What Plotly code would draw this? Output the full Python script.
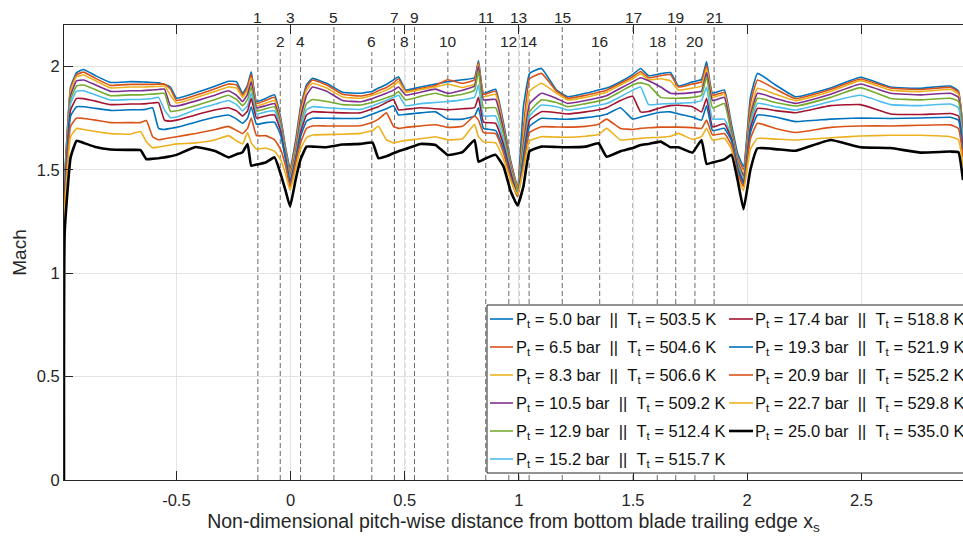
import plotly.graph_objects as go

# ---------------- data ----------------
x_s = [-0.992, -0.989, -0.963, -0.937, -0.906, -0.854, -0.788, -0.701, -0.657, -0.631,
       -0.604, -0.578, -0.552, -0.526, -0.499, -0.416, -0.328, -0.272, -0.236, -0.210,
       -0.188, -0.172, -0.149, -0.109, -0.070, -0.044, -0.022, -0.002, 0.022, 0.044,
       0.070, 0.096, 0.158, 0.228, 0.307, 0.359, 0.385, 0.420, 0.451, 0.473,
       0.504, 0.569, 0.635, 0.688, 0.753, 0.806, 0.823, 0.845, 0.898, 0.933,
       0.963, 0.994, 1.020, 1.047, 1.099, 1.165, 1.213, 1.292, 1.349, 1.384,
       1.445, 1.498, 1.533, 1.568, 1.621, 1.664, 1.699, 1.760, 1.800, 1.822,
       1.848, 1.900, 1.931, 1.958, 1.984, 2.014, 2.045, 2.124, 2.212, 2.365,
       2.496, 2.628, 2.759, 2.890, 2.925, 2.945]

mach_05_0 = [0.23, 1.45, 1.90, 1.97, 1.985, 1.955, 1.922, 1.926, 1.925, 1.924,
             1.922, 1.92, 1.912, 1.90, 1.846, 1.872, 1.905, 1.928, 1.925, 1.87,
             1.91, 1.974, 1.83, 1.845, 1.862, 1.757, 1.61, 1.507, 1.64, 1.805,
             1.91, 1.942, 1.918, 1.875, 1.870, 1.88, 1.895, 1.912, 1.935, 1.950,
             1.886, 1.90, 1.915, 1.926, 1.935, 1.945, 2.028, 1.87, 1.889, 1.725,
             1.55, 1.42, 1.805, 1.966, 1.99, 1.885, 1.853, 1.87, 1.886, 1.895,
             1.926, 1.96, 1.99, 1.955, 1.965, 1.970, 1.905, 1.925, 1.937, 2.023,
             1.87, 1.886, 1.72, 1.58, 1.515, 1.85, 1.966, 1.91, 1.853, 1.895,
             1.947, 1.90, 1.894, 1.905, 1.88, 1.70]

mach_06_5 = [0.21, 1.44, 1.89, 1.96, 1.972, 1.942, 1.908, 1.913, 1.913, 1.913,
             1.913, 1.914, 1.915, 1.89, 1.835, 1.86, 1.893, 1.915, 1.91, 1.86,
             1.90, 1.96, 1.82, 1.835, 1.85, 1.745, 1.60, 1.49, 1.62, 1.79,
             1.90, 1.934, 1.91, 1.865, 1.857, 1.868, 1.882, 1.898, 1.92, 1.94,
             1.88, 1.893, 1.908, 1.935, 1.918, 1.935, 2.02, 1.865, 1.88, 1.71,
             1.54, 1.415, 1.70, 1.94, 1.966, 1.88, 1.846, 1.86, 1.875, 1.885,
             1.918, 1.95, 1.975, 1.945, 1.955, 1.96, 1.90, 1.915, 1.925, 2.005,
             1.86, 1.875, 1.70, 1.56, 1.50, 1.82, 1.934, 1.89, 1.844, 1.888,
             1.939, 1.895, 1.888, 1.898, 1.875, 1.69]

mach_08_3 = [0.19, 1.43, 1.88, 1.95, 1.958, 1.93, 1.896, 1.90, 1.90, 1.901,
             1.902, 1.903, 1.905, 1.86, 1.823, 1.848, 1.88, 1.90, 1.895, 1.85,
             1.885, 1.945, 1.81, 1.822, 1.835, 1.735, 1.59, 1.48, 1.60, 1.77,
             1.885, 1.918, 1.895, 1.852, 1.846, 1.86, 1.87, 1.885, 1.905, 1.926,
             1.875, 1.888, 1.90, 1.915, 1.898, 1.915, 2.01, 1.853, 1.865, 1.70,
             1.53, 1.41, 1.66, 1.88, 1.918, 1.87, 1.838, 1.85, 1.865, 1.875,
             1.91, 1.94, 1.965, 1.935, 1.94, 1.93, 1.885, 1.895, 1.905, 1.99,
             1.85, 1.865, 1.69, 1.55, 1.48, 1.78, 1.894, 1.865, 1.834, 1.878,
             1.931, 1.885, 1.878, 1.888, 1.865, 1.68]

mach_10_5 = [0.17, 1.42, 1.86, 1.93, 1.934, 1.91, 1.879, 1.882, 1.882, 1.884,
             1.886, 1.888, 1.89, 1.81, 1.808, 1.832, 1.862, 1.882, 1.86, 1.83,
             1.865, 1.925, 1.80, 1.81, 1.82, 1.725, 1.58, 1.47, 1.58, 1.75,
             1.86, 1.90, 1.88, 1.835, 1.829, 1.845, 1.855, 1.87, 1.885, 1.90,
             1.862, 1.875, 1.89, 1.87, 1.885, 1.905, 2.00, 1.838, 1.84, 1.69,
             1.52, 1.40, 1.62, 1.82, 1.87, 1.845, 1.821, 1.835, 1.848, 1.858,
             1.894, 1.925, 1.945, 1.93, 1.90, 1.87, 1.868, 1.873, 1.88, 1.97,
             1.835, 1.85, 1.68, 1.54, 1.47, 1.76, 1.87, 1.845, 1.821, 1.865,
             1.915, 1.87, 1.862, 1.87, 1.85, 1.67]

mach_12_9 = [0.15, 1.41, 1.84, 1.905, 1.91, 1.887, 1.858, 1.862, 1.862, 1.864,
             1.866, 1.868, 1.87, 1.783, 1.785, 1.81, 1.84, 1.86, 1.84, 1.81,
             1.84, 1.90, 1.785, 1.795, 1.805, 1.715, 1.575, 1.46, 1.57, 1.72,
             1.82, 1.84, 1.83, 1.815, 1.813, 1.826, 1.835, 1.848, 1.86, 1.878,
             1.838, 1.855, 1.87, 1.855, 1.865, 1.885, 1.98, 1.80, 1.80, 1.67,
             1.51, 1.40, 1.60, 1.78, 1.838, 1.825, 1.805, 1.82, 1.832, 1.842,
             1.878, 1.91, 1.92, 1.91, 1.85, 1.846, 1.846, 1.85, 1.86, 1.95,
             1.80, 1.82, 1.67, 1.53, 1.46, 1.74, 1.846, 1.825, 1.808, 1.85,
             1.897, 1.845, 1.838, 1.846, 1.83, 1.65]

mach_15_2 = [0.13, 1.40, 1.82, 1.88, 1.882, 1.862, 1.837, 1.84, 1.84, 1.842,
             1.845, 1.85, 1.79, 1.752, 1.755, 1.79, 1.818, 1.835, 1.815, 1.785,
             1.81, 1.87, 1.77, 1.78, 1.785, 1.705, 1.57, 1.455, 1.56, 1.70,
             1.79, 1.805, 1.80, 1.795, 1.792, 1.81, 1.82, 1.835, 1.85, 1.86,
             1.81, 1.82, 1.825, 1.83, 1.838, 1.85, 1.91, 1.76, 1.76, 1.64,
             1.50, 1.39, 1.58, 1.76, 1.813, 1.805, 1.789, 1.80, 1.812, 1.82,
             1.853, 1.885, 1.90, 1.815, 1.818, 1.82, 1.821, 1.825, 1.835, 1.90,
             1.745, 1.745, 1.66, 1.52, 1.45, 1.72, 1.821, 1.805, 1.789, 1.83,
             1.86, 1.815, 1.81, 1.818, 1.80, 1.63]

mach_17_4 = [0.11, 1.38, 1.79, 1.845, 1.844, 1.832, 1.815, 1.818, 1.818, 1.82,
             1.823, 1.825, 1.74, 1.735, 1.74, 1.765, 1.79, 1.80, 1.785, 1.76,
             1.785, 1.845, 1.75, 1.76, 1.765, 1.69, 1.56, 1.44, 1.55, 1.68,
             1.765, 1.781, 1.778, 1.775, 1.776, 1.795, 1.805, 1.825, 1.84, 1.79,
             1.792, 1.80, 1.795, 1.79, 1.795, 1.80, 1.85, 1.73, 1.725, 1.62,
             1.49, 1.38, 1.56, 1.74, 1.781, 1.776, 1.77, 1.78, 1.79, 1.80,
             1.835, 1.855, 1.78, 1.782, 1.80, 1.81, 1.812, 1.805, 1.78, 1.846,
             1.708, 1.722, 1.65, 1.51, 1.44, 1.70, 1.797, 1.786, 1.776, 1.81,
             1.815, 1.77, 1.767, 1.772, 1.76, 1.60]

mach_19_3 = [0.09, 1.36, 1.76, 1.805, 1.805, 1.797, 1.787, 1.79, 1.79, 1.793,
             1.80, 1.70, 1.695, 1.70, 1.705, 1.73, 1.755, 1.765, 1.745, 1.725,
             1.75, 1.805, 1.72, 1.728, 1.73, 1.67, 1.55, 1.43, 1.54, 1.66,
             1.735, 1.749, 1.749, 1.748, 1.749, 1.77, 1.78, 1.795, 1.81, 1.765,
             1.768, 1.775, 1.78, 1.745, 1.745, 1.76, 1.80, 1.70, 1.69, 1.60,
             1.47, 1.37, 1.55, 1.71, 1.749, 1.746, 1.744, 1.752, 1.76, 1.768,
             1.80, 1.745, 1.755, 1.765, 1.778, 1.78, 1.77, 1.755, 1.74, 1.81,
             1.69, 1.70, 1.64, 1.50, 1.43, 1.68, 1.765, 1.755, 1.733, 1.745,
             1.75, 1.748, 1.75, 1.754, 1.74, 1.58]

mach_20_9 = [0.07, 1.33, 1.71, 1.75, 1.748, 1.74, 1.728, 1.728, 1.728, 1.738,
             1.66, 1.645, 1.65, 1.655, 1.66, 1.675, 1.695, 1.71, 1.69, 1.675,
             1.70, 1.75, 1.665, 1.665, 1.645, 1.60, 1.52, 1.415, 1.53, 1.63,
             1.70, 1.712, 1.712, 1.712, 1.713, 1.73, 1.745, 1.775, 1.71, 1.70,
             1.705, 1.712, 1.718, 1.705, 1.71, 1.76, 1.74, 1.68, 1.675, 1.58,
             1.46, 1.37, 1.52, 1.68, 1.708, 1.707, 1.706, 1.71, 1.72, 1.745,
             1.70, 1.695, 1.70, 1.703, 1.706, 1.706, 1.706, 1.704, 1.70, 1.74,
             1.668, 1.675, 1.62, 1.48, 1.42, 1.65, 1.725, 1.70, 1.68, 1.705,
             1.712, 1.712, 1.715, 1.717, 1.70, 1.56]

mach_22_7 = [0.05, 1.30, 1.66, 1.70, 1.695, 1.685, 1.675, 1.672, 1.685, 1.635,
             1.606, 1.61, 1.615, 1.62, 1.625, 1.63, 1.645, 1.665, 1.64, 1.625,
             1.68, 1.63, 1.60, 1.605, 1.59, 1.55, 1.48, 1.40, 1.50, 1.60,
             1.655, 1.668, 1.67, 1.672, 1.676, 1.69, 1.71, 1.645, 1.63, 1.635,
             1.642, 1.65, 1.66, 1.645, 1.65, 1.72, 1.66, 1.635, 1.63, 1.55,
             1.45, 1.38, 1.50, 1.64, 1.66, 1.658, 1.657, 1.662, 1.67, 1.70,
             1.644, 1.648, 1.652, 1.655, 1.657, 1.662, 1.676, 1.647, 1.66, 1.70,
             1.644, 1.652, 1.60, 1.46, 1.40, 1.60, 1.652, 1.648, 1.644, 1.655,
             1.663, 1.667, 1.667, 1.66, 1.645, 1.52]

mach_25_0 = [0.0, 1.20, 1.56, 1.64, 1.63, 1.61, 1.598, 1.596, 1.595, 1.551,
             1.553, 1.556, 1.56, 1.565, 1.572, 1.61, 1.59, 1.56, 1.575, 1.585,
             1.625, 1.52, 1.525, 1.535, 1.56, 1.483, 1.40, 1.322, 1.45, 1.55,
             1.612, 1.612, 1.609, 1.622, 1.625, 1.631, 1.556, 1.565, 1.58, 1.59,
             1.60, 1.625, 1.62, 1.572, 1.585, 1.644, 1.539, 1.55, 1.572, 1.515,
             1.40, 1.327, 1.42, 1.59, 1.612, 1.61, 1.609, 1.612, 1.628, 1.563,
             1.59, 1.605, 1.62, 1.625, 1.636, 1.609, 1.609, 1.583, 1.644, 1.528,
             1.535, 1.55, 1.572, 1.45, 1.309, 1.50, 1.604, 1.60, 1.592, 1.644,
             1.609, 1.605, 1.583, 1.588, 1.585, 1.45]

pt_bar = ["5.0", "6.5", "8.3", "10.5", "12.9", "15.2", "17.4", "19.3", "20.9", "22.7", "25.0"]
tt_k = ["503.5", "504.6", "506.6", "509.2", "512.4", "515.7", "518.8", "521.9", "525.2", "529.8", "535.0"]

probe_x = [-0.143, -0.045, 0.0, 0.044, 0.190, 0.356, 0.455, 0.500, 0.543, 0.689,
           0.855, 0.956, 1.000, 1.045, 1.190, 1.354, 1.500, 1.606, 1.687, 1.771, 1.855]
probe_labels = ["1", "2", "3", "4", "5", "6", "7", "8", "9", "10", "11",
                "12", "13", "14", "15", "16", "17", "18", "19", "20", "21"]

x_ticks = [-0.5, 0, 0.5, 1, 1.5, 2, 2.5]
x_ticktext = ["-0.5", "0", "0.5", "1", "1.5", "2", "2.5"]
y_ticks = [0, 0.5, 1, 1.5, 2]
y_ticktext = ["0", "0.5", "1", "1.5", "2"]

series = [mach_05_0, mach_06_5, mach_08_3, mach_10_5, mach_12_9, mach_15_2,
          mach_17_4, mach_19_3, mach_20_9, mach_22_7, mach_25_0]

# ---------------- styling ----------------
colors = ["#0072BD", "#D95319", "#EDB120", "#7E2F8E", "#77AC30", "#4DBEEE",
          "#A2142F", "#0072BD", "#D95319", "#EDB120", "#000000"]
FONT = "Liberation Sans, Arial, Helvetica, sans-serif"
NB = "\u00a0"

# figure geometry (pixels) used to place the hand-built two-column legend
W, H = 963, 540
ML, MR, MT, MB = 64, 0, 25, 60
PW, PH = W - ML - MR, H - MT - MB


def px_x(p):
    return (p - ML) / PW


def px_y(p):
    return (H - MB - p) / PH


fig = go.Figure()
names = []
for i, (ys, p, t) in enumerate(zip(series, pt_bar, tt_k)):
    name = f"P<sub>t</sub> = {p} bar{NB}{NB}||{NB}{NB}T<sub>t</sub> = {t} K"
    names.append(name)
    fig.add_trace(go.Scatter(
        x=x_s, y=ys, mode="lines", name=name, showlegend=False,
        line=dict(color=colors[i], width=2.6 if i == 10 else 1.6, shape="spline", smoothing=0.35),
    ))

shapes = []
annotations = []
for k, (px, lab) in enumerate(zip(probe_x, probe_labels)):
    odd = (k % 2 == 0)
    shapes.append(dict(type="line", xref="x", yref="paper", x0=px, x1=px,
                       y0=0, y1=1.0 if odd else px_y(52), layer="below",
                       line=dict(color="#6a6a6a", width=1, dash="5px,3px")))
    annotations.append(dict(x=px, xref="x", yref="paper", y=px_y(17) if odd else px_y(42),
                            text=lab, showarrow=False, xanchor="center", yanchor="middle",
                            font=dict(family=FONT, size=15.5, color="#262626")))

# legend box (two columns, like the reference)
shapes.append(dict(type="rect", xref="paper", yref="paper",
                   x0=px_x(487), x1=px_x(968), y0=px_y(473), y1=px_y(305),
                   fillcolor="white", line=dict(color="#262626", width=1), layer="above"))
for i, name in enumerate(names):
    col, row = (0, i) if i < 6 else (1, i - 6)
    ly = 319 + 28 * row
    lx0, lx1, tx = (490, 513, 514) if col == 0 else (729, 753, 753)
    shapes.append(dict(type="line", xref="paper", yref="paper",
                       x0=px_x(lx0), x1=px_x(lx1), y0=px_y(ly), y1=px_y(ly), layer="above",
                       line=dict(color=colors[i], width=2.6 if i == 10 else 1.6)))
    annotations.append(dict(x=px_x(tx), y=px_y(ly + 1), xref="paper", yref="paper",
                            text=name, showarrow=False, xanchor="left", yanchor="middle",
                            font=dict(family=FONT, size=16.5, color="#111111")))

fig.update_layout(
    width=W, height=H, autosize=False,
    margin=dict(l=ML, r=MR, t=MT, b=MB),
    paper_bgcolor="white", plot_bgcolor="white",
    font=dict(family=FONT, size=16, color="#262626"),
    shapes=shapes, annotations=annotations,
    showlegend=False,
    xaxis=dict(range=[-0.992, 2.945], tickvals=x_ticks, ticktext=x_ticktext,
               showgrid=True, gridcolor="#e3e3e3", gridwidth=1, zeroline=False,
               showline=True, linecolor="#262626", linewidth=1, mirror="ticks",
               ticks="inside", ticklen=9, tickcolor="#262626", ticklabelstandoff=5,
               tickfont=dict(size=16.5, color="#262626"),
               title=dict(text="Non-dimensional pitch-wise distance from bottom blade trailing edge x<sub>s</sub>",
                          font=dict(size=19.5, color="#262626"), standoff=6)),
    yaxis=dict(range=[0, 2.2], tickvals=y_ticks, ticktext=y_ticktext,
               showgrid=True, gridcolor="#e3e3e3", gridwidth=1, zeroline=False,
               showline=True, linecolor="#262626", linewidth=1, mirror=False,
               ticks="inside", ticklen=9, tickcolor="#262626",
               tickfont=dict(size=16.5, color="#262626"),
               title=dict(text="Mach", font=dict(size=19, color="#262626"), standoff=5)),
)

fig.write_html("out.html")
